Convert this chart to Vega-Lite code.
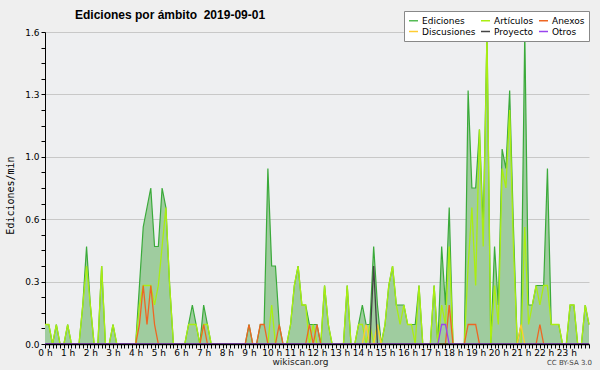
{
  "$schema": "https://vega.github.io/schema/vega-lite/v6.json",
  "width": 544,
  "height": 312,
  "autosize": {"type": "none"},
  "padding": {"left": 45, "top": 32, "right": 11, "bottom": 26},
  "background": "#efefef",
  "config": {"view": {"fill": "#eeeff1", "stroke": null}, "font": "DejaVu Sans"},
  "title": {"text": "Ediciones por ámbito \u00a02019-09-01", "anchor": "start", "frame": "group", "dx": 30, "dy": 22, "offset": 11, "fontSize": 12, "font": "Liberation Sans", "fontWeight": "bold", "color": "#000"},
  "data": {"values": [
    {"t":0,"Ediciones":0.1,"Artículos":0.1,"Anexos":0,"Discusiones":0,"Proyecto":0,"Otros":0},
    {"t":10,"Ediciones":0.1,"Artículos":0.1,"Anexos":0,"Discusiones":0,"Proyecto":0,"Otros":0},
    {"t":20,"Ediciones":0,"Artículos":0,"Anexos":0,"Discusiones":0,"Proyecto":0,"Otros":0},
    {"t":30,"Ediciones":0.1,"Artículos":0.1,"Anexos":0,"Discusiones":0,"Proyecto":0,"Otros":0},
    {"t":40,"Ediciones":0,"Artículos":0,"Anexos":0,"Discusiones":0,"Proyecto":0,"Otros":0},
    {"t":50,"Ediciones":0,"Artículos":0,"Anexos":0,"Discusiones":0,"Proyecto":0,"Otros":0},
    {"t":60,"Ediciones":0.1,"Artículos":0.1,"Anexos":0,"Discusiones":0,"Proyecto":0,"Otros":0},
    {"t":70,"Ediciones":0,"Artículos":0,"Anexos":0,"Discusiones":0,"Proyecto":0,"Otros":0},
    {"t":80,"Ediciones":0,"Artículos":0,"Anexos":0,"Discusiones":0,"Proyecto":0,"Otros":0},
    {"t":90,"Ediciones":0,"Artículos":0,"Anexos":0,"Discusiones":0,"Proyecto":0,"Otros":0},
    {"t":100,"Ediciones":0.2,"Artículos":0.2,"Anexos":0,"Discusiones":0,"Proyecto":0,"Otros":0},
    {"t":110,"Ediciones":0.5,"Artículos":0.4,"Anexos":0,"Discusiones":0,"Proyecto":0,"Otros":0},
    {"t":120,"Ediciones":0.2,"Artículos":0.2,"Anexos":0,"Discusiones":0,"Proyecto":0,"Otros":0},
    {"t":130,"Ediciones":0,"Artículos":0,"Anexos":0,"Discusiones":0,"Proyecto":0,"Otros":0},
    {"t":140,"Ediciones":0,"Artículos":0,"Anexos":0,"Discusiones":0,"Proyecto":0,"Otros":0},
    {"t":150,"Ediciones":0.4,"Artículos":0.4,"Anexos":0,"Discusiones":0,"Proyecto":0,"Otros":0},
    {"t":160,"Ediciones":0,"Artículos":0,"Anexos":0,"Discusiones":0,"Proyecto":0,"Otros":0},
    {"t":170,"Ediciones":0,"Artículos":0,"Anexos":0,"Discusiones":0,"Proyecto":0,"Otros":0},
    {"t":180,"Ediciones":0.1,"Artículos":0.1,"Anexos":0,"Discusiones":0,"Proyecto":0,"Otros":0},
    {"t":190,"Ediciones":0,"Artículos":0,"Anexos":0,"Discusiones":0,"Proyecto":0,"Otros":0},
    {"t":200,"Ediciones":0,"Artículos":0,"Anexos":0,"Discusiones":0,"Proyecto":0,"Otros":0},
    {"t":210,"Ediciones":0,"Artículos":0,"Anexos":0,"Discusiones":0,"Proyecto":0,"Otros":0},
    {"t":220,"Ediciones":0,"Artículos":0,"Anexos":0,"Discusiones":0,"Proyecto":0,"Otros":0},
    {"t":230,"Ediciones":0,"Artículos":0,"Anexos":0,"Discusiones":0,"Proyecto":0,"Otros":0},
    {"t":240,"Ediciones":0,"Artículos":0,"Anexos":0,"Discusiones":0,"Proyecto":0,"Otros":0},
    {"t":250,"Ediciones":0.3,"Artículos":0.2,"Anexos":0.1,"Discusiones":0,"Proyecto":0,"Otros":0},
    {"t":260,"Ediciones":0.6,"Artículos":0.3,"Anexos":0.3,"Discusiones":0,"Proyecto":0,"Otros":0},
    {"t":270,"Ediciones":0.7,"Artículos":0.3,"Anexos":0.1,"Discusiones":0,"Proyecto":0,"Otros":0},
    {"t":280,"Ediciones":0.8,"Artículos":0.3,"Anexos":0.3,"Discusiones":0,"Proyecto":0,"Otros":0},
    {"t":290,"Ediciones":0.5,"Artículos":0.2,"Anexos":0.1,"Discusiones":0,"Proyecto":0,"Otros":0},
    {"t":300,"Ediciones":0.5,"Artículos":0.3,"Anexos":0,"Discusiones":0,"Proyecto":0,"Otros":0},
    {"t":310,"Ediciones":0.8,"Artículos":0.5,"Anexos":0,"Discusiones":0,"Proyecto":0,"Otros":0},
    {"t":320,"Ediciones":0.7,"Artículos":0.7,"Anexos":0,"Discusiones":0,"Proyecto":0,"Otros":0},
    {"t":330,"Ediciones":0.3,"Artículos":0.3,"Anexos":0,"Discusiones":0,"Proyecto":0,"Otros":0},
    {"t":340,"Ediciones":0,"Artículos":0,"Anexos":0,"Discusiones":0,"Proyecto":0,"Otros":0},
    {"t":350,"Ediciones":0,"Artículos":0,"Anexos":0,"Discusiones":0,"Proyecto":0,"Otros":0},
    {"t":360,"Ediciones":0,"Artículos":0,"Anexos":0,"Discusiones":0,"Proyecto":0,"Otros":0},
    {"t":370,"Ediciones":0,"Artículos":0,"Anexos":0,"Discusiones":0,"Proyecto":0,"Otros":0},
    {"t":380,"Ediciones":0.1,"Artículos":0.1,"Anexos":0,"Discusiones":0,"Proyecto":0,"Otros":0},
    {"t":390,"Ediciones":0.2,"Artículos":0.1,"Anexos":0,"Discusiones":0,"Proyecto":0,"Otros":0},
    {"t":400,"Ediciones":0.1,"Artículos":0.1,"Anexos":0,"Discusiones":0,"Proyecto":0,"Otros":0},
    {"t":410,"Ediciones":0,"Artículos":0,"Anexos":0,"Discusiones":0,"Proyecto":0,"Otros":0},
    {"t":420,"Ediciones":0.2,"Artículos":0.1,"Anexos":0.1,"Discusiones":0,"Proyecto":0,"Otros":0},
    {"t":430,"Ediciones":0.1,"Artículos":0.1,"Anexos":0,"Discusiones":0,"Proyecto":0,"Otros":0},
    {"t":440,"Ediciones":0,"Artículos":0,"Anexos":0,"Discusiones":0,"Proyecto":0,"Otros":0},
    {"t":450,"Ediciones":0,"Artículos":0,"Anexos":0,"Discusiones":0,"Proyecto":0,"Otros":0},
    {"t":460,"Ediciones":0,"Artículos":0,"Anexos":0,"Discusiones":0,"Proyecto":0,"Otros":0},
    {"t":470,"Ediciones":0,"Artículos":0,"Anexos":0,"Discusiones":0,"Proyecto":0,"Otros":0},
    {"t":480,"Ediciones":0,"Artículos":0,"Anexos":0,"Discusiones":0,"Proyecto":0,"Otros":0},
    {"t":490,"Ediciones":0,"Artículos":0,"Anexos":0,"Discusiones":0,"Proyecto":0,"Otros":0},
    {"t":500,"Ediciones":0,"Artículos":0,"Anexos":0,"Discusiones":0,"Proyecto":0,"Otros":0},
    {"t":510,"Ediciones":0,"Artículos":0,"Anexos":0,"Discusiones":0,"Proyecto":0,"Otros":0},
    {"t":520,"Ediciones":0,"Artículos":0,"Anexos":0,"Discusiones":0,"Proyecto":0,"Otros":0},
    {"t":530,"Ediciones":0,"Artículos":0,"Anexos":0,"Discusiones":0,"Proyecto":0,"Otros":0},
    {"t":540,"Ediciones":0.1,"Artículos":0,"Anexos":0.1,"Discusiones":0,"Proyecto":0,"Otros":0},
    {"t":550,"Ediciones":0,"Artículos":0,"Anexos":0,"Discusiones":0,"Proyecto":0,"Otros":0},
    {"t":560,"Ediciones":0,"Artículos":0,"Anexos":0,"Discusiones":0,"Proyecto":0,"Otros":0},
    {"t":570,"Ediciones":0.1,"Artículos":0,"Anexos":0.1,"Discusiones":0,"Proyecto":0,"Otros":0},
    {"t":580,"Ediciones":0.1,"Artículos":0,"Anexos":0.1,"Discusiones":0,"Proyecto":0,"Otros":0},
    {"t":590,"Ediciones":0.9,"Artículos":0,"Anexos":0,"Discusiones":0,"Proyecto":0,"Otros":0},
    {"t":600,"Ediciones":0.4,"Artículos":0.2,"Anexos":0,"Discusiones":0,"Proyecto":0,"Otros":0},
    {"t":610,"Ediciones":0.4,"Artículos":0,"Anexos":0,"Discusiones":0,"Proyecto":0,"Otros":0},
    {"t":620,"Ediciones":0.1,"Artículos":0,"Anexos":0.1,"Discusiones":0,"Proyecto":0,"Otros":0},
    {"t":630,"Ediciones":0,"Artículos":0,"Anexos":0,"Discusiones":0,"Proyecto":0,"Otros":0},
    {"t":640,"Ediciones":0,"Artículos":0,"Anexos":0,"Discusiones":0,"Proyecto":0,"Otros":0},
    {"t":650,"Ediciones":0.1,"Artículos":0.1,"Anexos":0,"Discusiones":0,"Proyecto":0,"Otros":0},
    {"t":660,"Ediciones":0.3,"Artículos":0.3,"Anexos":0,"Discusiones":0,"Proyecto":0,"Otros":0},
    {"t":670,"Ediciones":0.4,"Artículos":0.4,"Anexos":0,"Discusiones":0,"Proyecto":0,"Otros":0},
    {"t":680,"Ediciones":0.2,"Artículos":0.2,"Anexos":0,"Discusiones":0,"Proyecto":0,"Otros":0},
    {"t":690,"Ediciones":0.2,"Artículos":0.2,"Anexos":0,"Discusiones":0,"Proyecto":0,"Otros":0},
    {"t":700,"Ediciones":0.1,"Artículos":0,"Anexos":0.1,"Discusiones":0,"Proyecto":0,"Otros":0},
    {"t":710,"Ediciones":0.1,"Artículos":0.1,"Anexos":0,"Discusiones":0,"Proyecto":0,"Otros":0},
    {"t":720,"Ediciones":0.1,"Artículos":0,"Anexos":0.1,"Discusiones":0,"Proyecto":0,"Otros":0},
    {"t":730,"Ediciones":0,"Artículos":0,"Anexos":0,"Discusiones":0,"Proyecto":0,"Otros":0},
    {"t":740,"Ediciones":0.3,"Artículos":0.3,"Anexos":0,"Discusiones":0,"Proyecto":0,"Otros":0},
    {"t":750,"Ediciones":0.1,"Artículos":0.1,"Anexos":0,"Discusiones":0,"Proyecto":0,"Otros":0},
    {"t":760,"Ediciones":0,"Artículos":0,"Anexos":0,"Discusiones":0,"Proyecto":0,"Otros":0},
    {"t":770,"Ediciones":0,"Artículos":0,"Anexos":0,"Discusiones":0,"Proyecto":0,"Otros":0},
    {"t":780,"Ediciones":0,"Artículos":0,"Anexos":0,"Discusiones":0,"Proyecto":0,"Otros":0},
    {"t":790,"Ediciones":0,"Artículos":0,"Anexos":0,"Discusiones":0,"Proyecto":0,"Otros":0},
    {"t":800,"Ediciones":0.3,"Artículos":0.3,"Anexos":0,"Discusiones":0,"Proyecto":0,"Otros":0},
    {"t":810,"Ediciones":0,"Artículos":0,"Anexos":0,"Discusiones":0,"Proyecto":0,"Otros":0},
    {"t":820,"Ediciones":0,"Artículos":0,"Anexos":0,"Discusiones":0,"Proyecto":0,"Otros":0},
    {"t":830,"Ediciones":0.1,"Artículos":0.1,"Anexos":0,"Discusiones":0,"Proyecto":0,"Otros":0},
    {"t":840,"Ediciones":0.2,"Artículos":0.1,"Anexos":0,"Discusiones":0,"Proyecto":0,"Otros":0},
    {"t":850,"Ediciones":0.1,"Artículos":0,"Anexos":0,"Discusiones":0.1,"Proyecto":0,"Otros":0},
    {"t":860,"Ediciones":0.1,"Artículos":0.1,"Anexos":0,"Discusiones":0,"Proyecto":0,"Otros":0},
    {"t":870,"Ediciones":0.5,"Artículos":0,"Anexos":0,"Discusiones":0,"Proyecto":0.4,"Otros":0},
    {"t":880,"Ediciones":0.2,"Artículos":0.1,"Anexos":0,"Discusiones":0.1,"Proyecto":0,"Otros":0},
    {"t":890,"Ediciones":0,"Artículos":0,"Anexos":0,"Discusiones":0,"Proyecto":0,"Otros":0},
    {"t":900,"Ediciones":0.1,"Artículos":0.1,"Anexos":0,"Discusiones":0,"Proyecto":0,"Otros":0},
    {"t":910,"Ediciones":0.3,"Artículos":0.3,"Anexos":0,"Discusiones":0,"Proyecto":0,"Otros":0},
    {"t":920,"Ediciones":0.4,"Artículos":0.4,"Anexos":0,"Discusiones":0,"Proyecto":0,"Otros":0},
    {"t":930,"Ediciones":0.2,"Artículos":0.2,"Anexos":0,"Discusiones":0,"Proyecto":0,"Otros":0},
    {"t":940,"Ediciones":0.2,"Artículos":0.1,"Anexos":0,"Discusiones":0,"Proyecto":0,"Otros":0},
    {"t":950,"Ediciones":0.2,"Artículos":0.2,"Anexos":0,"Discusiones":0,"Proyecto":0,"Otros":0},
    {"t":960,"Ediciones":0.1,"Artículos":0.1,"Anexos":0,"Discusiones":0,"Proyecto":0,"Otros":0},
    {"t":970,"Ediciones":0.1,"Artículos":0.1,"Anexos":0,"Discusiones":0,"Proyecto":0,"Otros":0},
    {"t":980,"Ediciones":0.1,"Artículos":0,"Anexos":0,"Discusiones":0,"Proyecto":0,"Otros":0},
    {"t":990,"Ediciones":0.3,"Artículos":0.3,"Anexos":0,"Discusiones":0,"Proyecto":0,"Otros":0},
    {"t":1000,"Ediciones":0,"Artículos":0,"Anexos":0,"Discusiones":0,"Proyecto":0,"Otros":0},
    {"t":1010,"Ediciones":0,"Artículos":0,"Anexos":0,"Discusiones":0,"Proyecto":0,"Otros":0},
    {"t":1020,"Ediciones":0,"Artículos":0,"Anexos":0,"Discusiones":0,"Proyecto":0,"Otros":0},
    {"t":1030,"Ediciones":0.3,"Artículos":0.3,"Anexos":0,"Discusiones":0,"Proyecto":0,"Otros":0},
    {"t":1040,"Ediciones":0,"Artículos":0,"Anexos":0,"Discusiones":0,"Proyecto":0,"Otros":0},
    {"t":1050,"Ediciones":0.5,"Artículos":0.2,"Anexos":0,"Discusiones":0,"Proyecto":0,"Otros":0.1},
    {"t":1060,"Ediciones":0.2,"Artículos":0.1,"Anexos":0,"Discusiones":0,"Proyecto":0,"Otros":0.1},
    {"t":1070,"Ediciones":0.7,"Artículos":0.5,"Anexos":0.2,"Discusiones":0,"Proyecto":0,"Otros":0},
    {"t":1080,"Ediciones":0,"Artículos":0,"Anexos":0,"Discusiones":0,"Proyecto":0,"Otros":0},
    {"t":1090,"Ediciones":0,"Artículos":0,"Anexos":0,"Discusiones":0,"Proyecto":0,"Otros":0},
    {"t":1100,"Ediciones":0,"Artículos":0,"Anexos":0,"Discusiones":0,"Proyecto":0,"Otros":0},
    {"t":1110,"Ediciones":0,"Artículos":0,"Anexos":0,"Discusiones":0,"Proyecto":0,"Otros":0},
    {"t":1120,"Ediciones":1.3,"Artículos":0.4,"Anexos":0.1,"Discusiones":0,"Proyecto":0,"Otros":0},
    {"t":1130,"Ediciones":0.8,"Artículos":0.7,"Anexos":0.1,"Discusiones":0,"Proyecto":0,"Otros":0},
    {"t":1140,"Ediciones":0.8,"Artículos":0.3,"Anexos":0.1,"Discusiones":0,"Proyecto":0,"Otros":0},
    {"t":1150,"Ediciones":1.1,"Artículos":1.1,"Anexos":0,"Discusiones":0,"Proyecto":0,"Otros":0},
    {"t":1160,"Ediciones":0.6,"Artículos":0.5,"Anexos":0,"Discusiones":0,"Proyecto":0,"Otros":0},
    {"t":1170,"Ediciones":1.6,"Artículos":1.6,"Anexos":0,"Discusiones":0,"Proyecto":0,"Otros":0},
    {"t":1180,"Ediciones":0,"Artículos":0,"Anexos":0,"Discusiones":0,"Proyecto":0,"Otros":0},
    {"t":1190,"Ediciones":0.5,"Artículos":0.3,"Anexos":0,"Discusiones":0,"Proyecto":0,"Otros":0},
    {"t":1200,"Ediciones":0.2,"Artículos":0.1,"Anexos":0,"Discusiones":0,"Proyecto":0,"Otros":0},
    {"t":1210,"Ediciones":1.0,"Artículos":0.9,"Anexos":0,"Discusiones":0,"Proyecto":0,"Otros":0},
    {"t":1220,"Ediciones":0.9,"Artículos":0.8,"Anexos":0,"Discusiones":0,"Proyecto":0,"Otros":0},
    {"t":1230,"Ediciones":1.3,"Artículos":1.2,"Anexos":0,"Discusiones":0,"Proyecto":0,"Otros":0},
    {"t":1240,"Ediciones":0.6,"Artículos":0.5,"Anexos":0,"Discusiones":0,"Proyecto":0,"Otros":0},
    {"t":1250,"Ediciones":0,"Artículos":0,"Anexos":0,"Discusiones":0,"Proyecto":0,"Otros":0},
    {"t":1260,"Ediciones":0.1,"Artículos":0,"Anexos":0,"Discusiones":0.1,"Proyecto":0,"Otros":0},
    {"t":1270,"Ediciones":1.6,"Artículos":0.6,"Anexos":0,"Discusiones":0,"Proyecto":0,"Otros":0},
    {"t":1280,"Ediciones":0.2,"Artículos":0.1,"Anexos":0,"Discusiones":0,"Proyecto":0,"Otros":0},
    {"t":1290,"Ediciones":0.2,"Artículos":0.2,"Anexos":0,"Discusiones":0,"Proyecto":0,"Otros":0},
    {"t":1300,"Ediciones":0.3,"Artículos":0.3,"Anexos":0,"Discusiones":0,"Proyecto":0,"Otros":0},
    {"t":1310,"Ediciones":0.3,"Artículos":0.2,"Anexos":0.1,"Discusiones":0,"Proyecto":0,"Otros":0},
    {"t":1320,"Ediciones":0.3,"Artículos":0.3,"Anexos":0,"Discusiones":0,"Proyecto":0,"Otros":0},
    {"t":1330,"Ediciones":0.9,"Artículos":0.3,"Anexos":0,"Discusiones":0,"Proyecto":0,"Otros":0},
    {"t":1340,"Ediciones":0.1,"Artículos":0.1,"Anexos":0,"Discusiones":0,"Proyecto":0,"Otros":0},
    {"t":1350,"Ediciones":0.1,"Artículos":0.1,"Anexos":0,"Discusiones":0,"Proyecto":0,"Otros":0},
    {"t":1360,"Ediciones":0.1,"Artículos":0.1,"Anexos":0,"Discusiones":0,"Proyecto":0,"Otros":0},
    {"t":1370,"Ediciones":0,"Artículos":0,"Anexos":0,"Discusiones":0,"Proyecto":0,"Otros":0},
    {"t":1380,"Ediciones":0,"Artículos":0,"Anexos":0,"Discusiones":0,"Proyecto":0,"Otros":0},
    {"t":1390,"Ediciones":0.2,"Artículos":0.2,"Anexos":0,"Discusiones":0,"Proyecto":0,"Otros":0},
    {"t":1400,"Ediciones":0.2,"Artículos":0.2,"Anexos":0,"Discusiones":0,"Proyecto":0,"Otros":0},
    {"t":1410,"Ediciones":0,"Artículos":0,"Anexos":0,"Discusiones":0,"Proyecto":0,"Otros":0},
    {"t":1420,"Ediciones":0,"Artículos":0,"Anexos":0,"Discusiones":0,"Proyecto":0,"Otros":0},
    {"t":1430,"Ediciones":0.2,"Artículos":0.2,"Anexos":0,"Discusiones":0,"Proyecto":0,"Otros":0},
    {"t":1440,"Ediciones":0.1,"Artículos":0.1,"Anexos":0,"Discusiones":0,"Proyecto":0,"Otros":0}
  ]},
  "encoding": {
    "x": {"field": "t", "type": "quantitative",
      "scale": {"domain": [0, 1440], "nice": false, "zero": false},
      "axis": {"tickCount": 144, "labelExpr": "datum.value % 60 == 0 && datum.value < 1440 ? (datum.value / 60) + ' h' : ''",
        "labelOverlap": false, "labelFlush": false, "labelFontSize": 9, "labelColor": "#000", "labelPadding": 0,
        "tickSize": 4, "tickColor": "#000", "domainColor": "#000", "domainWidth": 1.5, "grid": false, "zindex": 1,
        "title": "wikiscan.org", "titleX": 255, "titleY": 17, "titleFontSize": 9, "titleFontWeight": "normal", "titleColor": "#222", "titleBaseline": "middle", "titleAlign": "center"}}
  },
  "layer": [
    {
      "mark": {"type": "area", "color": "#9fcc9f", "opacity": 1, "line": {"color": "#3aaa3a", "strokeWidth": 1.2}},
      "encoding": {
        "y": {"field": "Ediciones", "type": "quantitative",
          "scale": {"domain": [0, 1.6], "nice": false},
          "axis": {"orient": "right", "domain": false, "ticks": false, "labels": false, "grid": false,
            "title": "CC BY-SA 3.0", "titleAngle": 0, "titleX": -20, "titleY": 330, "titleFontSize": 7, "titleFontWeight": "normal", "titleColor": "#444", "titleAlign": "center", "titleBaseline": "middle"}}
      }
    },
    {
      "transform": [{"fold": ["Artículos", "Anexos", "Discusiones", "Proyecto", "Otros"], "as": ["serie", "valor"]}],
      "mark": {"type": "line", "strokeWidth": 1.3},
      "encoding": {
        "y": {"field": "valor", "type": "quantitative",
          "scale": {"domain": [0, 1.6], "nice": false},
          "axis": {"orient": "left", "values": [0,0.08,0.16,0.24,0.32,0.4,0.48,0.56,0.64,0.72,0.8,0.88,0.96,1.04,1.12,1.2,1.28,1.36,1.44,1.52,1.6],
            "labelExpr": "indexof([0,0.32,0.64,0.96,1.28,1.6], datum.value) >= 0 ? format(datum.value, '.1f') : ''",
            "labelOverlap": false, "labelFontSize": 9, "labelColor": "#000", "labelPadding": 2,
            "tickSize": 4, "tickColor": "#000", "domainColor": "#000",
            "grid": true, "gridColor": "#c8c8c8", "gridOpacity": {"condition": {"test": "indexof([0.32,0.64,0.96,1.28,1.6], datum.value) >= 0", "value": 1}, "value": 0},
            "title": "Ediciones/min", "titleX": -35, "titleY": 163, "titleFontSize": 10, "titleFontWeight": "normal", "titleFont": "DejaVu Sans Mono", "titleColor": "#000", "titleAlign": "center", "titleBaseline": "middle"}},
        "color": {"field": "serie", "type": "nominal",
          "scale": {"domain": ["Ediciones", "Discusiones", "Artículos", "Proyecto", "Anexos", "Otros"], "range": ["#55bb55", "#ffcc33", "#aaee11", "#444444", "#ee6622", "#9944ee"]},
          "legend": {"orient": "none", "legendX": 359, "legendY": -21, "columns": 3, "title": null, "fillColor": "#ffffff", "strokeColor": "#888888",
            "padding": 4, "labelFontSize": 9, "labelFont": "DejaVu Sans", "labelColor": "#000", "symbolType": "stroke", "symbolSize": 81, "symbolStrokeWidth": 1.5,
            "rowPadding": 0, "columnPadding": 2, "labelOffset": 3}}
      }
    }
  ],
  "resolve": {"axis": {"y": "independent"}}
}
